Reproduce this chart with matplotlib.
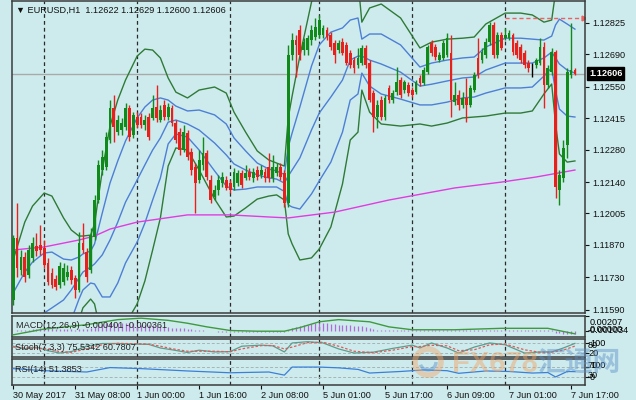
import matplotlib.pyplot as plt
import matplotlib.transforms as mtrans
from matplotlib.patches import Circle, Arc
import numpy as np

# EURUSD H1 candles, 30 May 16:00 .. 7 Jun 2017
opens = [1.11633, 1.11900, 1.11762, 1.11818, 1.11741, 1.11814, 1.11865, 1.11870, 1.11857, 1.11792,
         1.11749, 1.11723, 1.11698, 1.11710, 1.11732, 1.11762, 1.11728, 1.11676, 1.11878, 1.11839,
         1.11762, 1.11904, 1.12063, 1.12192, 1.12205, 1.12321, 1.12459, 1.12355, 1.12364, 1.12377,
         1.12459, 1.12342, 1.12420, 1.12420, 1.12386, 1.12420, 1.12416, 1.12463, 1.12407, 1.12472,
         1.12420, 1.12459, 1.12394, 1.12355, 1.12278, 1.12351, 1.12270, 1.12205, 1.12149, 1.12213,
         1.12265, 1.12149, 1.12076, 1.12106, 1.12136, 1.12149, 1.12136, 1.12119, 1.12136, 1.12179,
         1.12157, 1.12183, 1.12157, 1.12192, 1.12170, 1.12183, 1.12205, 1.12157, 1.12179, 1.12205,
         1.12179, 1.12050, 1.12687, 1.12751, 1.12794, 1.12708, 1.12708, 1.12751, 1.12764, 1.12773,
         1.12773, 1.12794, 1.12773, 1.12738, 1.12708, 1.12742, 1.12729, 1.12695, 1.12665, 1.12644,
         1.12652, 1.12717, 1.12652, 1.12523, 1.12420, 1.12493, 1.12420, 1.12545, 1.12493, 1.12527,
         1.12579, 1.12536, 1.12558, 1.12536, 1.12527, 1.12588, 1.12566, 1.12613, 1.12738, 1.12721,
         1.12665, 1.12674, 1.12687, 1.12695, 1.12484, 1.12515, 1.12472, 1.12502, 1.12472, 1.12536,
         1.12674, 1.12665, 1.12687, 1.12742, 1.12816, 1.12687, 1.12773, 1.12760, 1.12760, 1.12773,
         1.12738, 1.12721, 1.12695, 1.12652, 1.12639, 1.12644, 1.12652, 1.12721, 1.12558, 1.12613,
         1.12699, 1.12106, 1.12157, 1.12299, 1.12600, 1.12622]
highs = [1.11912, 1.12050, 1.11848, 1.11839, 1.11870, 1.11904, 1.11921, 1.11955, 1.11891, 1.11814,
         1.11771, 1.11741, 1.11796, 1.11792, 1.11784, 1.11779, 1.11741, 1.11925, 1.11964, 1.11857,
         1.11943, 1.12085, 1.12235, 1.12278, 1.12355, 1.12493, 1.12515, 1.12429, 1.12416, 1.12480,
         1.12472, 1.12441, 1.12441, 1.12437, 1.12429, 1.12437, 1.12515, 1.12558, 1.12472, 1.12493,
         1.12480, 1.12472, 1.12407, 1.12373, 1.12385, 1.12364, 1.12287, 1.12222, 1.12278, 1.12334,
         1.12278, 1.12170, 1.12128, 1.12170, 1.12183, 1.12166, 1.12149, 1.12201, 1.12192, 1.12192,
         1.12213, 1.12201, 1.12201, 1.12209, 1.12213, 1.12201, 1.12265, 1.12257, 1.12222, 1.12222,
         1.12192, 1.12730, 1.12781, 1.12773, 1.12816, 1.12760, 1.12773, 1.12816, 1.12846, 1.12858,
         1.12816, 1.12807, 1.12785, 1.12751, 1.12751, 1.12760, 1.12742, 1.12708, 1.12678, 1.12717,
         1.12729, 1.12729, 1.12665, 1.12536, 1.12493, 1.12510, 1.12515, 1.12558, 1.12536, 1.12635,
         1.12592, 1.12579, 1.12570, 1.12549, 1.12579, 1.12600, 1.12635, 1.12729, 1.12751, 1.12734,
         1.12699, 1.12751, 1.12781, 1.12773, 1.12570, 1.12536, 1.12527, 1.12588, 1.12558, 1.12613,
         1.12760, 1.12717, 1.12760, 1.12828, 1.12828, 1.12785, 1.12785, 1.12803, 1.12794, 1.12781,
         1.12751, 1.12734, 1.12708, 1.12665, 1.12652, 1.12674, 1.12760, 1.12742, 1.12644, 1.12717,
         1.12708, 1.12192, 1.12321, 1.12630, 1.12824, 1.12629]
lows = [1.11611, 1.11732, 1.11741, 1.11710, 1.11728, 1.11796, 1.11822, 1.11826, 1.11771, 1.11698,
        1.11685, 1.11676, 1.11685, 1.11698, 1.11719, 1.11702, 1.11642, 1.11667, 1.11835, 1.11710,
        1.11749, 1.11891, 1.12050, 1.12170, 1.12192, 1.12308, 1.12312, 1.12342, 1.12342, 1.12364,
        1.12317, 1.12329, 1.12373, 1.12373, 1.12364, 1.12321, 1.12407, 1.12398, 1.12398, 1.12407,
        1.12407, 1.12381, 1.12308, 1.12257, 1.12270, 1.12235, 1.12170, 1.12007, 1.12136, 1.12192,
        1.12149, 1.12050, 1.12063, 1.12085, 1.12119, 1.12106, 1.12093, 1.12106, 1.12123, 1.12115,
        1.12149, 1.12149, 1.12140, 1.12149, 1.12157, 1.12140, 1.12140, 1.12140, 1.12166, 1.12149,
        1.12033, 1.12033, 1.12665, 1.12592, 1.12665, 1.12687, 1.12687, 1.12729, 1.12751, 1.12760,
        1.12760, 1.12751, 1.12708, 1.12652, 1.12695, 1.12687, 1.12644, 1.12631, 1.12609, 1.12631,
        1.12644, 1.12631, 1.12484, 1.12355, 1.12373, 1.12407, 1.12407, 1.12480, 1.12480, 1.12515,
        1.12502, 1.12523, 1.12510, 1.12506, 1.12519, 1.12553, 1.12558, 1.12605, 1.12682, 1.12665,
        1.12656, 1.12665, 1.12678, 1.12420, 1.12472, 1.12450, 1.12459, 1.12398, 1.12463, 1.12527,
        1.12588, 1.12652, 1.12674, 1.12729, 1.12674, 1.12674, 1.12708, 1.12751, 1.12751, 1.12687,
        1.12674, 1.12652, 1.12631, 1.12613, 1.12592, 1.12631, 1.12644, 1.12459, 1.12545, 1.12600,
        1.12072, 1.12041, 1.12140, 1.12244, 1.12588, 1.12600]
closes = [1.11900, 1.11771, 1.11818, 1.11732, 1.11848, 1.11878, 1.11844, 1.11848, 1.11784, 1.11710,
          1.11698, 1.11689, 1.11779, 1.11771, 1.11753, 1.11719, 1.11676, 1.11878, 1.11848, 1.11732,
          1.11912, 1.12063, 1.12213, 1.12248, 1.12334, 1.12459, 1.12377, 1.12407, 1.12394, 1.12459,
          1.12334, 1.12429, 1.12386, 1.12386, 1.12407, 1.12334, 1.12459, 1.12416, 1.12450, 1.12420,
          1.12463, 1.12394, 1.12321, 1.12278, 1.12355, 1.12248, 1.12192, 1.12136, 1.12235, 1.12265,
          1.12162, 1.12063, 1.12106, 1.12149, 1.12162, 1.12115, 1.12106, 1.12183, 1.12179, 1.12128,
          1.12179, 1.12162, 1.12183, 1.12162, 1.12192, 1.12157, 1.12157, 1.12205, 1.12205, 1.12162,
          1.12050, 1.12687, 1.12751, 1.12730, 1.12687, 1.12742, 1.12760, 1.12794, 1.12807, 1.12837,
          1.12803, 1.12764, 1.12721, 1.12687, 1.12738, 1.12695, 1.12652, 1.12644, 1.12631, 1.12674,
          1.12717, 1.12644, 1.12493, 1.12420, 1.12472, 1.12420, 1.12502, 1.12493, 1.12523, 1.12570,
          1.12515, 1.12570, 1.12523, 1.12515, 1.12570, 1.12566, 1.12622, 1.12721, 1.12695, 1.12678,
          1.12687, 1.12738, 1.12760, 1.12493, 1.12515, 1.12472, 1.12502, 1.12472, 1.12545, 1.12600,
          1.12600, 1.12699, 1.12742, 1.12816, 1.12687, 1.12773, 1.12717, 1.12773, 1.12781, 1.12699,
          1.12687, 1.12665, 1.12644, 1.12631, 1.12639, 1.12665, 1.12721, 1.12558, 1.12631, 1.12699,
          1.12119, 1.12170, 1.12287, 1.12613, 1.12622, 1.12606]

# Bollinger bands (green = outer, blue = inner + middle), read at these bars
band_bars = [0, 3, 5, 8, 10, 13, 15, 17, 18, 20, 21, 23, 25, 27, 29, 32, 34, 36, 38, 40,
             42, 45, 48, 52, 55, 57, 60, 63, 66, 68, 70, 71, 72, 74, 77, 79, 82, 85, 87, 89,
             90, 92, 95, 100, 105, 108, 112, 116, 119, 122, 127, 131, 134, 137, 139, 140, 141, 143, 145]
bb_up_outer = [1.11805, 1.11968, 1.12037, 1.12093, 1.12080, 1.11986, 1.11934, 1.11908, 1.11908, 1.11912,
               1.11960, 1.12188, 1.12381, 1.12493, 1.12579, 1.12682, 1.12712, 1.12708, 1.12674, 1.12588,
               1.12527, 1.12502, 1.12536, 1.12549, 1.12523, 1.12441, 1.12355, 1.12274, 1.12235, 1.12222,
               1.12209, 1.12416, 1.12510, 1.12682, 1.12914, 1.13022, 1.13065, 1.13026, 1.13009, 1.13009,
               1.12828, 1.12889, 1.12906, 1.12846, 1.12717, 1.12742, 1.12755, 1.12759, 1.12764, 1.12820,
               1.12867, 1.12867, 1.12859, 1.12828, 1.12837, 1.12957, 1.13035, 1.13018, 1.12988]
bb_up_inner = [1.11663, 1.11753, 1.11796, 1.11835, 1.11839, 1.11809, 1.11805, 1.11818, 1.11831, 1.11844,
               1.11874, 1.12007, 1.12136, 1.12231, 1.12317, 1.12416, 1.12463, 1.12493, 1.12502, 1.12493,
               1.12467, 1.12446, 1.12450, 1.12429, 1.12390, 1.12330, 1.12274, 1.12222, 1.12196, 1.12188,
               1.12173, 1.12291, 1.12351, 1.12463, 1.12639, 1.12730, 1.12785, 1.12803, 1.12837, 1.12846,
               1.12755, 1.12777, 1.12777, 1.12730, 1.12635, 1.12652, 1.12665, 1.12674, 1.12678, 1.12721,
               1.12759, 1.12759, 1.12755, 1.12751, 1.12768, 1.12816, 1.12841, 1.12820, 1.12798]
bb_mid = [1.11521, 1.11538, 1.11556, 1.11577, 1.11599, 1.11633, 1.11676, 1.11728, 1.11753, 1.11775,
          1.11788, 1.11827, 1.11891, 1.11968, 1.12054, 1.12149, 1.12214, 1.12278, 1.12330, 1.12398,
          1.12407, 1.12390, 1.12364, 1.12308, 1.12257, 1.12218, 1.12192, 1.12171, 1.12158, 1.12153,
          1.12136, 1.12166, 1.12192, 1.12244, 1.12364, 1.12437, 1.12506, 1.12579, 1.12665, 1.12682,
          1.12682, 1.12665, 1.12648, 1.12613, 1.12553, 1.12561, 1.12575, 1.12588, 1.12592, 1.12622,
          1.12652, 1.12652, 1.12652, 1.12674, 1.12699, 1.12674, 1.12648, 1.12622, 1.12609]
bb_lo_inner = [1.11379, 1.11323, 1.11315, 1.11319, 1.11358, 1.11457, 1.11547, 1.11637, 1.11676, 1.11706,
               1.11702, 1.11646, 1.11646, 1.11706, 1.11792, 1.11882, 1.11964, 1.12063, 1.12158, 1.12304,
               1.12347, 1.12334, 1.12278, 1.12188, 1.12123, 1.12106, 1.12110, 1.12119, 1.12119, 1.12119,
               1.12100, 1.12042, 1.12033, 1.12024, 1.12089, 1.12145, 1.12226, 1.12355, 1.12493, 1.12519,
               1.12609, 1.12553, 1.12519, 1.12497, 1.12472, 1.12472, 1.12484, 1.12502, 1.12506, 1.12523,
               1.12545, 1.12545, 1.12549, 1.12596, 1.12631, 1.12532, 1.12454, 1.12424, 1.12420]
bb_lo_outer = [1.11237, 1.11108, 1.11074, 1.11061, 1.11117, 1.11280, 1.11418, 1.11547, 1.11599, 1.11637,
               1.11616, 1.11465, 1.11401, 1.11444, 1.11530, 1.11616, 1.11715, 1.11848, 1.11986, 1.12209,
               1.12287, 1.12278, 1.12192, 1.12067, 1.11990, 1.11994, 1.12029, 1.12067, 1.12080, 1.12085,
               1.12063, 1.11917, 1.11874, 1.11805, 1.11814, 1.11852, 1.11947, 1.12132, 1.12321, 1.12355,
               1.12536, 1.12441, 1.12390, 1.12381, 1.12390, 1.12381, 1.12394, 1.12416, 1.12420, 1.12424,
               1.12437, 1.12437, 1.12446, 1.12519, 1.12562, 1.12390, 1.12261, 1.12226, 1.12231]

# long moving average (magenta)
ma_bars = [0, 8, 17, 21, 25, 32, 45, 56, 66, 71, 83, 97, 114, 126, 135, 145]
ma_vals = [1.11848, 1.11861, 1.11891, 1.11908, 1.11938, 1.11968, 1.11999, 1.11999, 1.11990, 1.11986,
           1.12011, 1.12063, 1.12115, 1.12140, 1.12162, 1.12192]

alert_level = 1.12846
alert_start = 127

# MACD histogram (x 1e-4) and signal line
macd_hist_e4 = [0, 1, 1, 2, 2, 3, 3, 4, 4, 4, 4, 3, 3, 3, 3, 3, 2,
                3, 3, 3, 4,
                6, 8, 10, 11, 12, 12, 12,
                12, 12, 11, 11, 10, 9, 9, 8,
                8, 7, 7, 6, 6, 5, 5, 4, 4, 3, 3, 2,
                1, 1, 0, 0, 0, -1, -1, -1, -1,
                -1, -1, -1, -1, -1, -1, -1, -1, -1, -1, -1, -1, -1, -1,
                1, 4, 6, 7, 8, 9, 10, 11, 11, 11, 11, 10,
                10, 9, 9, 8, 8, 7, 7, 7, 6, 4,
                3, 2, 2, 1, 1, 1, 1, 1, 1, 1, 1,
                1, 1, 1, 1, 1, 1, 1, 1, 1, 1, 1, 1, 1, 1, 1, 1, 1,
                1, 1, 2, 2, 2, 1, 1, 1, 1, 1, 1, 1, 1, 1, 1, 1, 1, 1, 1,
                -2, -3, -4, -4, -4, -4]
sig_bars = [0, 8, 19, 27, 33, 40, 45, 50, 56, 63, 70, 74, 79, 84, 92, 97, 103, 114, 126, 138, 145]
sig_vals = [-0.0005, 0.0003, 0.0009, 0.0016, 0.0018, 0.0015, 0.0011, 0.0006, 0.0001, 0.0, 0.0,
            0.0005, 0.0013, 0.0016, 0.0013, 0.0006, 0.0002, 0.0002, 0.0004, 0.0004, -0.00036]

stoch_bars = [0, 3, 6, 9, 12, 15, 19, 23, 27, 31, 35, 38, 41, 45, 48, 52, 56, 59, 64, 67, 70,
              72, 76, 80, 84, 88, 93, 98, 103, 105, 108, 112, 115, 119, 123, 127, 132, 136, 139, 142, 145]
stoch_main = [60, 45, 55, 35, 22, 30, 60, 75, 75, 72, 70, 50, 40, 25, 38, 28, 30, 60, 66, 62, 28,
              78, 85, 78, 45, 22, 27, 48, 66, 50, 78, 50, 22, 55, 78, 68, 22, 28, 28, 50, 75.5342]
stoch_sig = [55, 50, 50, 45, 30, 26, 45, 68, 76, 74, 71, 60, 46, 32, 32, 32, 29, 45, 63, 64, 45,
             55, 80, 82, 60, 32, 24, 38, 58, 58, 65, 62, 35, 40, 68, 72, 40, 26, 27, 38, 60.7807]

rsi_bars = [0, 8, 19, 25, 33, 45, 56, 66, 70, 72, 79, 84, 89, 92, 100, 106, 112, 115, 122, 128,
            134, 138, 140, 143, 145]
rsi_vals = [63, 55, 50, 67, 63, 54, 47, 50, 38, 69, 69, 66, 60, 46, 52, 58, 55, 45, 54, 52,
            46, 48, 31, 52, 51.3853]

price_ticks = [1.12825, 1.12690, 1.12550, 1.12415, 1.12280, 1.12140, 1.12005, 1.11870, 1.11730, 1.11590]
time_ticks = [0, 16, 32, 48, 64, 80, 96, 112, 128, 144]
time_labels = ['30 May 2017', '31 May 08:00', '1 Jun 00:00', '1 Jun 16:00', '2 Jun 08:00',
               '5 Jun 01:00', '5 Jun 17:00', '6 Jun 09:00', '7 Jun 01:00', '7 Jun 17:00']
day_breaks = [8, 32, 56, 79, 103, 127]

plt.rcParams['font.family'] = ['Liberation Sans', 'DejaVu Sans']

W, H = 636, 400
BG = '#cdebed'
GREEN = '#108a18'
RED = '#e8201c'
FS = 6.6

fig = plt.figure(figsize=(W / 100, H / 100), dpi=100, facecolor=BG)


def panel(x0, y0, x1, y1):
    a = fig.add_axes([x0 / W, 1 - y1 / H, (x1 - x0) / W, (y1 - y0) / H], facecolor=BG)
    for s in a.spines.values():
        s.set_color('#3c3c3c')
        s.set_linewidth(1.1)
    a.set_xlim(-0.3, 147.6)
    a.yaxis.tick_right()
    a.tick_params(axis='y', direction='out', length=3, width=0.8, pad=2,
                  labelsize=FS, colors='#111111')
    a.tick_params(axis='x', bottom=False, labelbottom=False)
    for b in day_breaks:
        a.axvline(b, color='#2a2a2a', lw=0.9, ls=(0, (3, 2.5)), zorder=1)
    return a


ax = panel(12, 1, 585, 313)
ax_macd = panel(12, 316, 585, 337)
ax_st = panel(12, 339, 585, 357)
ax_rsi = panel(12, 359, 585, 385)

# ---- main chart ----
o, h, l, c = (np.array(v) for v in (opens, highs, lows, closes))
idx = np.arange(len(c))
cols = np.where(c > o, GREEN, np.where(c < o, RED, 'black'))
ax.vlines(idx, l, h, colors=cols, lw=1.0, zorder=3)
ax.bar(idx, np.maximum(np.abs(c - o), 0.000025), bottom=np.minimum(o, c), width=0.72,
       color=cols, linewidth=0, zorder=3)

ax.plot(band_bars, bb_up_outer, color='#2f7a36', lw=1.0, zorder=2)
ax.plot(band_bars, bb_lo_outer, color='#2f7a36', lw=1.0, zorder=2)
ax.plot(band_bars, bb_up_inner, color='#4d7fd6', lw=1.0, zorder=2)
ax.plot(band_bars, bb_mid, color='#4d7fd6', lw=1.0, zorder=2)
ax.plot(band_bars, bb_lo_inner, color='#4d7fd6', lw=1.0, zorder=2)
ax.plot(ma_bars, ma_vals, color='#e03ce0', lw=1.0, zorder=2)

ax.axhline(closes[-1], color='#a9a9a9', lw=1.0, zorder=1)
ax.plot([alert_start, 147.3], [alert_level, alert_level], color='#f06060', lw=1.0,
        ls=(0, (3, 2)), zorder=2)
ax.plot([147.3], [alert_level], marker='>', color='#f06060', ms=3.5, zorder=2)

ax.set_ylim(1.11577, 1.12919)
ax.set_yticks(price_ticks)
ax.set_yticklabels([f'{v:.5f}' for v in price_ticks])
ax.set_xticks([])

trans = mtrans.blended_transform_factory(ax.transAxes, ax.transData)
ax.text(1 + 4 / 573, closes[-1], f'{closes[-1]:.5f}', transform=trans, color='white',
        fontsize=FS, fontweight='bold', va='center', ha='left',
        bbox=dict(boxstyle='square,pad=0.22', fc='black', ec='black'))

fig.text(16 / W, 1 - 10 / H, '\u25bc EURUSD,H1  1.12622 1.12629 1.12600 1.12606',
         fontsize=FS, va='center', ha='left', color='#111111')

# ---- MACD ----
hist = np.array(macd_hist_e4) * 1e-4
ax_macd.vlines(idx, 0, hist, colors='#b36ad6', lw=0.9, zorder=2)
ax_macd.plot(sig_bars, sig_vals, color='#3f9a3f', lw=1.0, zorder=3)
ax_macd.set_ylim(-0.0008, 0.0021)
ax_macd.set_yticks([0.00207, 0.0])
ax_macd.set_yticklabels([])
ax_macd.set_xticks([])
fig.text(16 / W, 1 - 326 / H, 'MACD(12,26,9) -0.000401 -0.000361', fontsize=FS,
         va='center', ha='left', color='#222222')
fig.text(590 / W, 1 - 322.5 / H, '0.00207', fontsize=FS, va='center', ha='left')
fig.text(590 / W, 1 - 330 / H, '0.00000', fontsize=FS, va='center', ha='left')
fig.text(588 / W, 1 - 330.5 / H, '-0.001034', fontsize=FS, va='center', ha='left')

# ---- Stochastic ----
ax_st.plot(stoch_bars, stoch_main, color='#5e9c8c', lw=0.9, zorder=3)
ax_st.plot(stoch_bars, stoch_sig, color='#e05a5a', lw=0.9, ls=(0, (2, 1.5)), zorder=3)
for lv in (80, 20):
    ax_st.axhline(lv, color='#a6b4b6', lw=0.7, ls=(0, (3, 2)), zorder=1)
ax_st.set_ylim(0, 100)
ax_st.set_yticks([80, 20])
ax_st.set_yticklabels([])
ax_st.set_xticks([])
fig.text(15 / W, 1 - 347 / H, 'Stoch(7,3,3) 75.5342 60.7807', fontsize=FS,
         va='center', ha='left', color='#222222')
fig.text(590 / W, 1 - 344 / H, '100', fontsize=FS, va='center', ha='left')
fig.text(588 / W, 1 - 345 / H, '80', fontsize=FS, va='center', ha='left')
fig.text(588 / W, 1 - 354 / H, '20', fontsize=FS, va='center', ha='left')

# ---- RSI ----
ax_rsi.plot(rsi_bars, rsi_vals, color='#3b7fd9', lw=0.9, zorder=3)
for lv in (70, 30):
    ax_rsi.axhline(lv, color='#a6b4b6', lw=0.7, ls=(0, (3, 2)), zorder=1)
ax_rsi.set_ylim(0, 100)
ax_rsi.set_yticks([70, 30])
ax_rsi.set_yticklabels([])
fig.text(15 / W, 1 - 369 / H, 'RSI(14) 51.3853', fontsize=FS,
         va='center', ha='left', color='#222222')
fig.text(590 / W, 1 - 365 / H, '100', fontsize=FS, va='center', ha='left')
fig.text(588 / W, 1 - 366 / H, '70', fontsize=FS, va='center', ha='left')
fig.text(588 / W, 1 - 375 / H, '30', fontsize=FS, va='center', ha='left')
fig.text(590 / W, 1 - 378 / H, '0', fontsize=FS, va='center', ha='left')

ax_rsi.set_xticks(time_ticks)
ax_rsi.set_xticklabels(time_labels, ha='left')
ax_rsi.tick_params(axis='x', bottom=True, labelbottom=True, direction='out', length=3,
                   width=0.8, pad=1.5, labelsize=FS, colors='#111111')

# ---- watermark ----
fig.add_artist(Circle((4.28, 0.38), 0.13, transform=fig.dpi_scale_trans, fill=False,
                      ec='#f2a868', lw=4, alpha=0.45))
fig.add_artist(Arc((4.28, 0.38), 0.16, 0.16, theta1=200, theta2=360,
                   transform=fig.dpi_scale_trans, ec='#5b8fc8', lw=2.5, alpha=0.45))
fig.text(452 / W, 1 - 364 / H, 'FX678', fontsize=21, fontweight='bold', color='#f2a060',
         alpha=0.45, va='center', ha='left', family=['Liberation Sans', 'DejaVu Sans'])
fig.text(537 / W, 1 - 364 / H, '汇通网', fontsize=20, fontweight='bold', color='#5b8fc8',
         alpha=0.45, va='center', ha='left', family=['Noto Sans CJK SC', 'DejaVu Sans'])

fig.savefig('out.png', dpi=100, facecolor=BG)
